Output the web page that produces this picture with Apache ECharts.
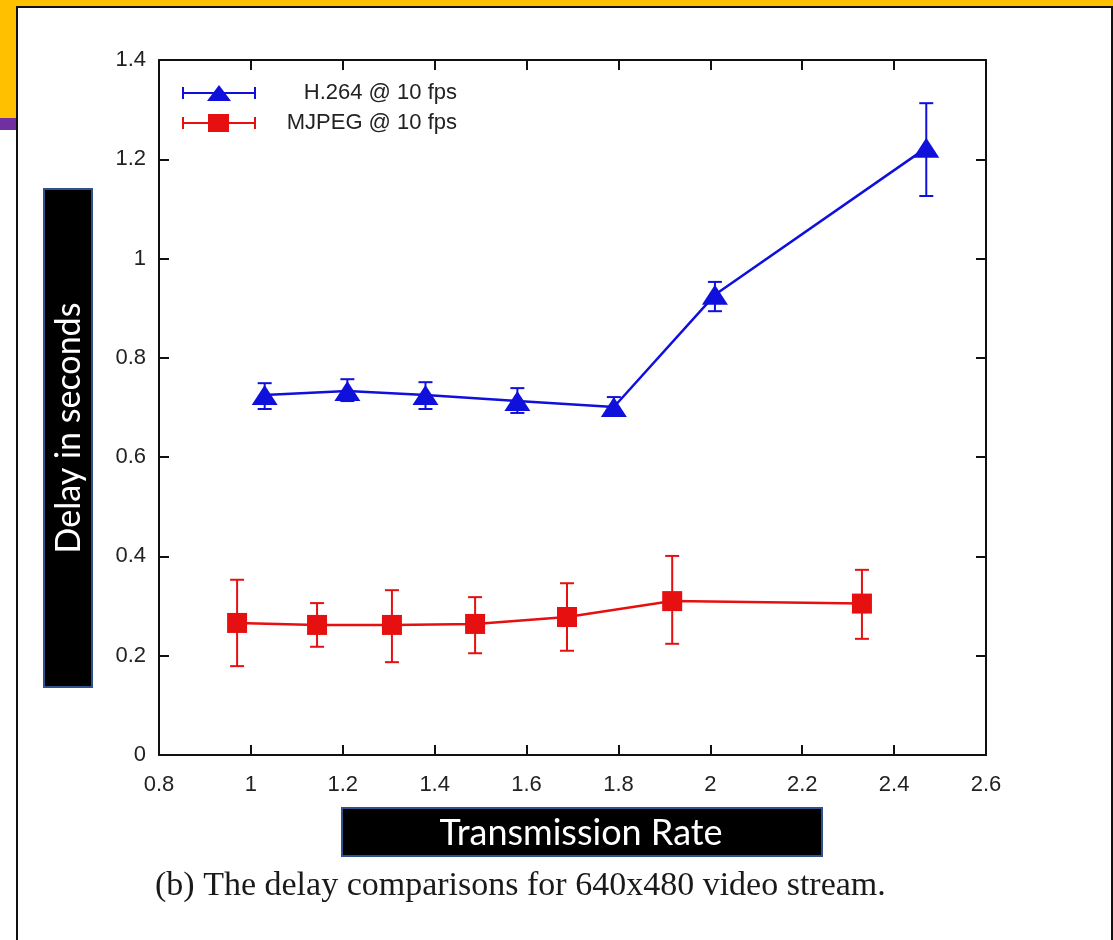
<!DOCTYPE html>
<html>
<head>
<meta charset="utf-8">
<title>Delay comparisons 640x480</title>
<script src="https://cdn.jsdelivr.net/npm/echarts@6/dist/echarts.min.js"></script>
<style>
  html, body { margin: 0; padding: 0; background: #fff; }
  #chart { width: 1113px; height: 940px; }
</style>
</head>
<body>
<div id="chart"></div>
<script>
// data
var h264Name = 'H.264 @ 10 fps';
var h264X  = [1.03, 1.21, 1.38, 1.58, 1.79, 2.01, 2.47];
var h264Y  = [0.725, 0.733, 0.725, 0.713, 0.701, 0.927, 1.223];
var h264Lo = [0.697, 0.713, 0.697, 0.689, 0.685, 0.894, 1.126];
var h264Hi = [0.749, 0.757, 0.751, 0.739, 0.721, 0.953, 1.313];

var mjpegName = 'MJPEG @ 10 fps';
var mjpegX  = [0.97, 1.144, 1.307, 1.488, 1.688, 1.917, 2.33];
var mjpegY  = [0.266, 0.262, 0.262, 0.264, 0.278, 0.31, 0.305];
var mjpegLo = [0.179, 0.218, 0.187, 0.205, 0.21, 0.224, 0.234];
var mjpegHi = [0.353, 0.306, 0.332, 0.318, 0.346, 0.401, 0.373];

var xTitle = 'Transmission Rate';
var yTitle = 'Delay in seconds';
var caption = '(b) The delay comparisons for 640x480 video stream.';

var blue = '#1010dc';
var red = '#e61010';
var labelFont = 'Liberation Sans, Arial, sans-serif';

var chart = echarts.init(document.getElementById('chart'));

function pairs(xs, ys) {
  return xs.map(function (x, i) { return [x, ys[i]]; });
}

// vertical error bar with caps
function errorBars(name, color, xs, lo, hi) {
  return {
    name: name,
    type: 'custom',
    z: 3,
    itemStyle: { color: color },
    encode: { x: 0, y: [1, 2] },
    data: xs.map(function (x, i) { return [x, lo[i], hi[i]]; }),
    renderItem: function (params, api) {
      var top = api.coord([api.value(0), api.value(2)]);
      var bot = api.coord([api.value(0), api.value(1)]);
      var w = 7;
      var st = { stroke: color, lineWidth: 2 };
      return {
        type: 'group',
        children: [
          { type: 'line', shape: { x1: top[0], y1: top[1], x2: bot[0], y2: bot[1] }, style: st },
          { type: 'line', shape: { x1: top[0] - w, y1: top[1], x2: top[0] + w, y2: top[1] }, style: st },
          { type: 'line', shape: { x1: bot[0] - w, y1: bot[1], x2: bot[0] + w, y2: bot[1] }, style: st }
        ]
      };
    }
  };
}

// legend icons: bar with caps + marker (tiny corner dots fix the box at 74x20)
var boxFix = 'M0,0L0.05,0L0,0.05Z M0,20L0.05,20L0,19.95Z ';
var iconTri = 'path://' + boxFix + 'M0,9L74,9L74,11L0,11Z M0,4L2,4L2,16L0,16Z M72,4L74,4L74,16L72,16Z M25,18L37,2L49,18Z';
var iconSq = 'path://' + boxFix + 'M0,9L74,9L74,11L0,11Z M0,4L2,4L2,16L0,16Z M72,4L74,4L74,16L72,16Z M26,1L47,1L47,19L26,19Z';

var axisLine = { show: true, onZero: false, lineStyle: { color: '#111', width: 2 } };
var axisTick = { show: true, inside: true, length: 10, lineStyle: { color: '#111', width: 2 } };

var option = {
  animation: false,
  backgroundColor: '#fff',
  grid: { left: 159, right: 127, top: 60, bottom: 185 },
  legend: {
    orient: 'vertical',
    left: 182,
    top: 82,
    padding: 0,
    itemWidth: 74,
    itemHeight: 20,
    itemGap: 8,
    symbolKeepAspect: false,
    itemStyle: { borderWidth: 0 },
    formatter: '{n|{name}}',
    textStyle: {
      rich: { n: { width: 196, align: 'right', fontSize: 22, fontFamily: labelFont, color: '#222' } }
    },
    data: [
      { name: h264Name, icon: iconTri },
      { name: mjpegName, icon: iconSq }
    ]
  },
  xAxis: [
    {
      type: 'value', min: 0.8, max: 2.6, interval: 0.2,
      axisLine: axisLine, axisTick: axisTick, splitLine: { show: false },
      axisLabel: {
        margin: 19, color: '#222', fontSize: 22, fontFamily: labelFont,
        formatter: function (v) { return String(+v.toFixed(1)); }
      }
    },
    {
      type: 'value', position: 'top', min: 0.8, max: 2.6, interval: 0.2,
      axisLine: axisLine, axisTick: axisTick, splitLine: { show: false },
      axisLabel: { show: false }
    }
  ],
  yAxis: [
    {
      type: 'value', min: 0, max: 1.4, interval: 0.2,
      axisLine: axisLine, axisTick: axisTick, splitLine: { show: false },
      axisLabel: {
        margin: 13, color: '#222', fontSize: 22, fontFamily: labelFont,
        formatter: function (v) { return String(+v.toFixed(1)); }
      }
    },
    {
      type: 'value', position: 'right', min: 0, max: 1.4, interval: 0.2,
      axisLine: axisLine, axisTick: axisTick, splitLine: { show: false },
      axisLabel: { show: false }
    }
  ],
  series: [
    {
      name: h264Name, type: 'line', z: 4,
      data: pairs(h264X, h264Y),
      symbol: 'triangle', symbolSize: [26, 20],
      itemStyle: { color: blue },
      lineStyle: { color: blue, width: 2.5 }
    },
    {
      name: mjpegName, type: 'line', z: 4,
      data: pairs(mjpegX, mjpegY),
      symbol: 'rect', symbolSize: 20,
      itemStyle: { color: red },
      lineStyle: { color: red, width: 2.5 }
    },
    errorBars(h264Name, blue, h264X, h264Lo, h264Hi),
    errorBars(mjpegName, red, mjpegX, mjpegLo, mjpegHi)
  ],
  graphic: [
    // slide decorations
    { type: 'rect', shape: { x: 0, y: 0, width: 1113, height: 6 }, style: { fill: '#ffc000' } },
    { type: 'rect', shape: { x: 0, y: 0, width: 16, height: 118 }, style: { fill: '#ffc000' } },
    { type: 'rect', shape: { x: 0, y: 118, width: 16, height: 12 }, style: { fill: '#7030a0' } },
    { type: 'line', shape: { x1: 16, y1: 7, x2: 1113, y2: 7 }, style: { stroke: '#111', lineWidth: 2 } },
    { type: 'line', shape: { x1: 17, y1: 6, x2: 17, y2: 940 }, style: { stroke: '#111', lineWidth: 2 } },
    { type: 'line', shape: { x1: 1112, y1: 6, x2: 1112, y2: 940 }, style: { stroke: '#111', lineWidth: 2 } },
    // axis title boxes
    {
      type: 'group', children: [
        { type: 'rect', shape: { x: 44, y: 189, width: 48, height: 498 }, style: { fill: '#000', stroke: '#2f528f', lineWidth: 2 } },
        {
          type: 'text', x: 69, y: 428, rotation: Math.PI / 2,
          style: { text: yTitle, fill: '#fff', font: '34px Lato, "Open Sans", sans-serif', align: 'center', verticalAlign: 'middle' }
        }
      ]
    },
    {
      type: 'group', children: [
        { type: 'rect', shape: { x: 342, y: 808, width: 480, height: 48 }, style: { fill: '#000', stroke: '#2f528f', lineWidth: 2 } },
        {
          type: 'text', x: 581, y: 833,
          style: { text: xTitle, fill: '#fff', font: '36px Lato, "Open Sans", sans-serif', align: 'center', verticalAlign: 'middle' }
        }
      ]
    },
    {
      type: 'text', x: 155, y: 886,
      style: { text: caption, fill: '#1a1a1a', font: '34px "Liberation Serif", "Times New Roman", serif', verticalAlign: 'middle' }
    }
  ]
};

chart.setOption(option);
</script>
</body>
</html>
